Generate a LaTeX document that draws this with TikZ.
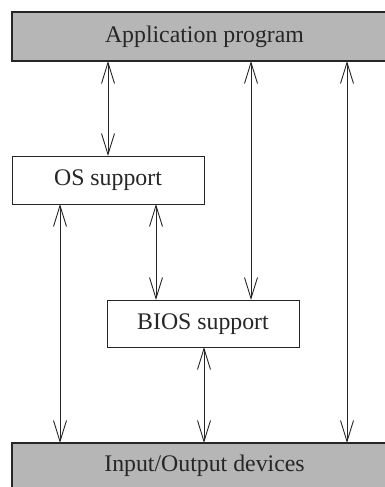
\documentclass[tikz,border=0pt]{standalone}
\usepackage{fontspec}
\setmainfont{Liberation Serif}
\usetikzlibrary{arrows.meta}
\definecolor{barfill}{RGB}{182,182,182}
\begin{document}
\begin{tikzpicture}[x=1pt,y=-1pt,
  bar/.style={draw=black!85, line width=1.1pt, fill=barfill},
  unit/.style={draw=black!85, line width=1pt, fill=white},
  label/.style={font=\fontsize{23.8}{26}\selectfont, text=black!85, inner sep=0pt},
  link/.style={draw=black!85, line width=0.9pt,
    {Straight Barb[length=21pt,width=13pt,line width=0.9pt]}-{Straight Barb[length=21pt,width=13pt,line width=0.9pt]}}]
  \useasboundingbox (0,0) rectangle (385,487);
  \clip (0,0) rectangle (385,487);
  % layers
  \draw[bar] (12,12) rectangle (397,61);
  \node[label] (app) at (204.5,37) {Application program};
  \draw[bar] (12,443) rectangle (397,500);
  \node[label] (io) at (204.5,466) {Input/Output devices};
  \draw[unit] (12,156) rectangle (204,204);
  \node[label] (os) at (108,180) {OS support};
  \draw[unit] (107,300) rectangle (299,347);
  \node[label] (bios) at (203,324) {BIOS support};
  % attachment points on box edges
  \coordinate (appA) at (108,61);
  \coordinate (appB) at (251,61);
  \coordinate (appC) at (347,61);
  \coordinate (osT) at (108,156);
  \coordinate (osB1) at (60,204);
  \coordinate (osB2) at (156,204);
  \coordinate (biosT1) at (156,300);
  \coordinate (biosT2) at (251,300);
  \coordinate (biosB) at (204,347);
  \coordinate (ioA) at (60,443);
  \coordinate (ioB) at (204,443);
  \coordinate (ioC) at (347,443);
  % connectors
  \draw[link] (appA) -- (osT);
  \draw[link] (appB) -- (biosT2);
  \draw[link] (appC) -- (ioC);
  \draw[link] (osB2) -- (biosT1);
  \draw[link] (osB1) -- (ioA);
  \draw[link] (biosB) -- (ioB);
\end{tikzpicture}
\end{document}
